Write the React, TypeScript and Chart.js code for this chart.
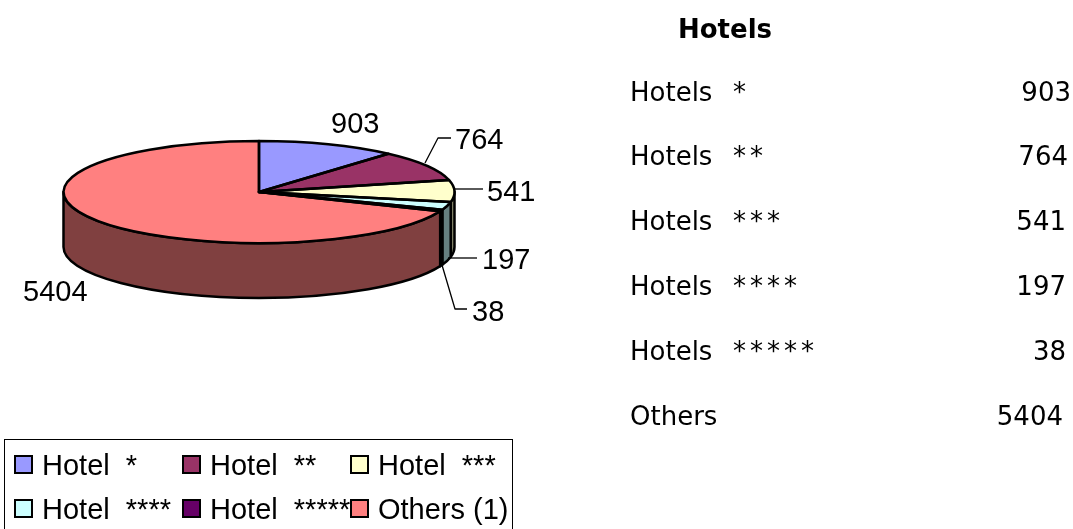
import React, { useEffect, useRef } from "react";
import { Chart, registerables } from "chart.js";

Chart.register(...registerables);

const legendLabels = ["Hotel  *", "Hotel  **", "Hotel  ***", "Hotel  ****", "Hotel  *****", "Others (1)"];
const tableLabels = ["Hotels", "Hotels", "Hotels", "Hotels", "Hotels", "Others"];
const tableStars = ["*", "**", "***", "****", "*****", ""];
const values = [903, 764, 541, 197, 38, 5404];
const topColors = ["#9999FF", "#993366", "#FFFFCC", "#CCFFFF", "#660066", "#FF8080"];
const sideColors = ["#4C4C80", "#4C1933", "#808066", "#668080", "#330033", "#804040"];

// pie projection
const CX = 259;
const CY = 192;
const RX = 195.5;
const RY = 51;
const DEPTH = 55;
const CHART_LEFT_WIDTH = 518;

// label placement, in the same order as values
const labelPos = [
  [331, 133],
  [455, 149],
  [487, 201],
  [482, 269],
  [472, 321],
  [23, 301],
];
const leaders: number[][][] = [
  [],
  [[425, 163], [438, 138], [451, 138]],
  [[455, 189], [483, 189]],
  [[448, 258], [477, 258]],
  [[442, 265], [455, 309], [467, 309]],
  [],
];

const tableBaselines = [101, 165, 230, 295, 360, 425];
const tableRights = [1071, 1068, 1066, 1066, 1066, 1063];
const legendX = [14, 182, 350];
const legendY = [455, 499];

const pie3d = {
  id: "pie3d",
  beforeDatasetsDraw(chart: any) {
    const ctx = chart.ctx;
    const arcs = chart.getDatasetMeta(0).data;
    ctx.save();
    ctx.lineWidth = 2.5;
    ctx.strokeStyle = "#000";
    ctx.lineJoin = "round";
    arcs.forEach((arc: any, i: number) => {
      const a0 = Math.max(arc.startAngle, 0);
      const a1 = Math.min(arc.endAngle, Math.PI);
      if (a1 <= a0) return;
      ctx.beginPath();
      ctx.ellipse(CX, CY, RX, RY, 0, a0, a1);
      ctx.ellipse(CX, CY + DEPTH, RX, RY, 0, a1, a0, true);
      ctx.closePath();
      ctx.fillStyle = sideColors[i];
      ctx.fill();
      ctx.stroke();
    });
    ctx.restore();
    ctx.save();
    const a = arcs[0];
    ctx.translate(CX, CY);
    ctx.scale(1, RY / RX);
    ctx.translate(-a.x, -a.y);
  },
  afterDatasetsDraw(chart: any) {
    const ctx = chart.ctx;
    ctx.restore();
    const arcs = chart.getDatasetMeta(0).data;
    ctx.save();
    ctx.lineWidth = 2.5;
    ctx.strokeStyle = "#000";
    ctx.lineJoin = "round";
    arcs.forEach((arc: any) => {
      ctx.beginPath();
      ctx.moveTo(CX, CY);
      ctx.ellipse(CX, CY, RX, RY, 0, arc.startAngle, arc.endAngle);
      ctx.closePath();
      ctx.stroke();
    });
    ctx.lineWidth = 1.3;
    leaders.forEach((pts) => {
      if (!pts.length) return;
      ctx.beginPath();
      pts.forEach((p, k) => (k ? ctx.lineTo(p[0], p[1]) : ctx.moveTo(p[0], p[1])));
      ctx.stroke();
    });
    ctx.fillStyle = "#000";
    ctx.font = '29px "Liberation Sans"';
    ctx.textBaseline = "alphabetic";
    ctx.textAlign = "left";
    values.forEach((v, i) => ctx.fillText(String(v), labelPos[i][0], labelPos[i][1]));
    ctx.restore();
  },
};

const abs = (left: number, top: number, extra: React.CSSProperties = {}): React.CSSProperties => ({
  position: "absolute",
  left,
  top,
  whiteSpace: "pre",
  ...extra,
});

export default function App() {
  const ref = useRef<HTMLCanvasElement>(null);
  useEffect(() => {
    const chart = new Chart(ref.current as HTMLCanvasElement, {
      type: "pie",
      data: {
        labels: legendLabels,
        datasets: [
          {
            data: values,
            backgroundColor: topColors,
            borderWidth: 0,
            clip: false,
          } as any,
        ],
      },
      options: {
        responsive: false,
        animation: false,
        devicePixelRatio: 1,
        radius: RX,
        layout: { padding: { right: 1073 - CHART_LEFT_WIDTH } },
        plugins: { legend: { display: false }, tooltip: { enabled: false }, title: { display: false } },
        events: [],
      } as any,
      plugins: [pie3d],
    });
    return () => chart.destroy();
  }, []);

  const tableFont = '"DejaVu Sans"';
  const legendFont = '"Liberation Sans"';
  return (
    <div style={{ position: "absolute", left: 0, top: 0, width: 1073, height: 529, overflow: "hidden", background: "#fff" }}>
      <canvas ref={ref} width={1073} height={529} style={{ position: "absolute", left: 0, top: 0, display: "block" }} />
      <div style={abs(678, 13, { font: `bold 26px/32px ${tableFont}`, color: "#000" })}>Hotels</div>
      {tableLabels.map((t, i) => (
        <React.Fragment key={i}>
          <div style={abs(630, tableBaselines[i] - 25, { font: `26px/32px ${tableFont}` })}>{t}</div>
          <div style={abs(733, tableBaselines[i] - 25, { font: `26px/32px ${tableFont}`, letterSpacing: 4 })}>{tableStars[i]}</div>
          <div style={abs(0, tableBaselines[i] - 25, { font: `26px/32px ${tableFont}`, width: tableRights[i], textAlign: "right" })}>
            {values[i]}
          </div>
        </React.Fragment>
      ))}
      <div style={{ position: "absolute", left: 4, top: 439, width: 507, height: 120, border: "1px solid #000" }} />
      {legendLabels.map((l, i) => {
        const x = legendX[i % 3];
        const y = legendY[Math.floor(i / 3)];
        return (
          <React.Fragment key={l}>
            <div style={{ position: "absolute", left: x, top: y, width: 15, height: 15, background: topColors[i], border: "2px solid #000" }} />
            <div style={abs(x + 28, y - 6, { font: `29px/32px ${legendFont}` })}>{l}</div>
          </React.Fragment>
        );
      })}
    </div>
  );
}
